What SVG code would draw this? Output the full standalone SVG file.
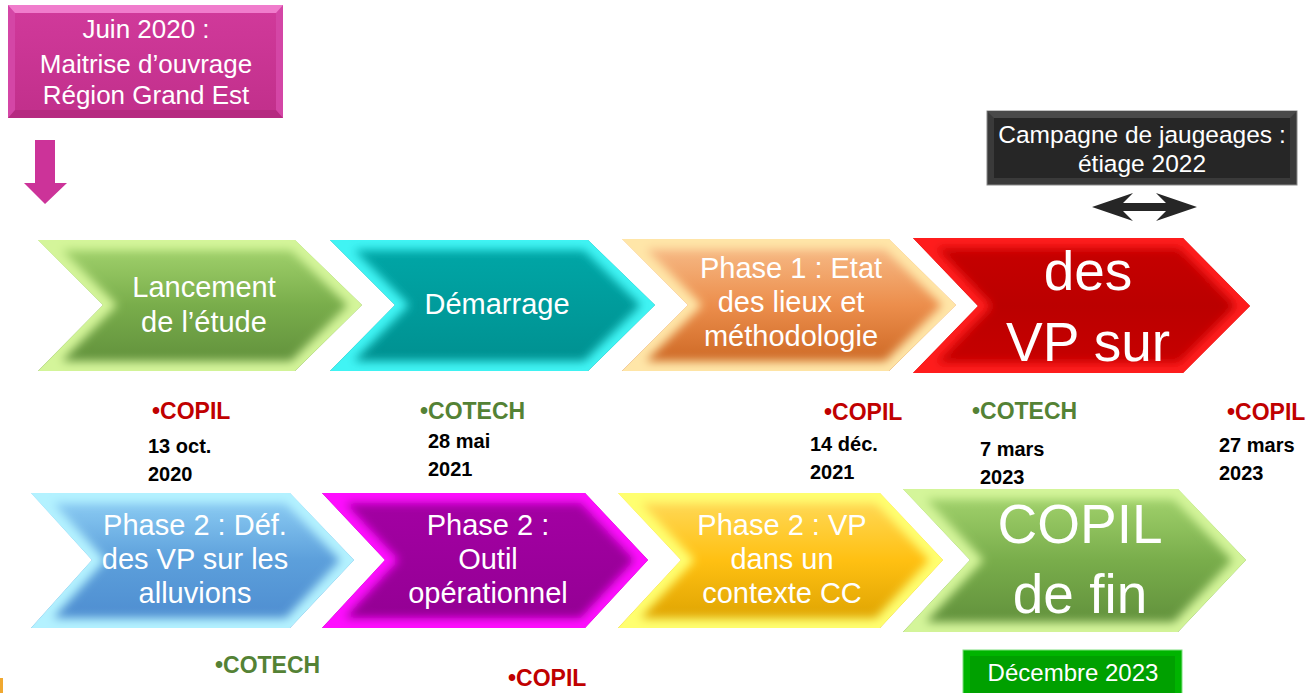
<svg xmlns="http://www.w3.org/2000/svg" xmlns:xlink="http://www.w3.org/1999/xlink" width="1308" height="693" viewBox="0 0 1308 693">
<style>
text{font-family:"Liberation Sans",Arial,sans-serif}
.w{fill:#fff;text-anchor:middle}
.t29{font-size:29px}
.t26{font-size:26px}
.big{font-size:55px}
.lbl{font-weight:bold;font-size:23px}
.red{fill:#c00000}
.grn{fill:#548235}
.dt{font-weight:bold;font-size:20px;fill:#000}
.glow{fill:none;stroke-width:20;filter:url(#soft)}
</style>
<defs>
<filter id="soft" x="-20%" y="-20%" width="140%" height="140%"><feGaussianBlur stdDeviation="5"/></filter>
<polygon id="p1" points="38,240 295,240 362,305 295,371 38,371 103,305"/>
<polygon id="p2" points="330,240 588,240 655,305 588,371 330,371 395,305"/>
<polygon id="p3" points="622,239 889,239 956,305 889,371 622,371 688,305"/>
<polygon id="p4" points="913,238 1183,238 1250,306 1183,373 913,373 978,306"/>
<polygon id="p5" points="31,493 290,493 354,560 290,628 31,628 92,560"/>
<polygon id="p6" points="322,493 585,493 648,560 585,628 322,628 385,560"/>
<polygon id="p7" points="618,493 880,493 943,560 880,628 618,628 681,560"/>
<polygon id="p8" points="903,489 1178,489 1246,560 1178,632 903,632 970,560"/>
<clipPath id="c1"><use xlink:href="#p1"/></clipPath>
<clipPath id="c2"><use xlink:href="#p2"/></clipPath>
<clipPath id="c3"><use xlink:href="#p3"/></clipPath>
<clipPath id="c4"><use xlink:href="#p4"/></clipPath>
<clipPath id="c5"><use xlink:href="#p5"/></clipPath>
<clipPath id="c6"><use xlink:href="#p6"/></clipPath>
<clipPath id="c7"><use xlink:href="#p7"/></clipPath>
<clipPath id="c8"><use xlink:href="#p8"/></clipPath>
<linearGradient id="gGreen" x1="0" y1="0" x2="0" y2="1"><stop offset="0" stop-color="#a6d670"/><stop offset="0.5" stop-color="#79ad4b"/><stop offset="1" stop-color="#5e8d3a"/></linearGradient>
<linearGradient id="gTeal" x1="0" y1="0" x2="0" y2="1"><stop offset="0" stop-color="#00a8a8"/><stop offset="1" stop-color="#008f8f"/></linearGradient>
<linearGradient id="gOrange" x1="0" y1="0" x2="0" y2="1"><stop offset="0" stop-color="#f8c08e"/><stop offset="0.5" stop-color="#ec8e4c"/><stop offset="1" stop-color="#c9631f"/></linearGradient>
<linearGradient id="gRed" x1="0" y1="0" x2="0" y2="1"><stop offset="0" stop-color="#c80000"/><stop offset="0.5" stop-color="#bb0000"/><stop offset="1" stop-color="#c80000"/></linearGradient>
<linearGradient id="gBlue" x1="0" y1="0" x2="0" y2="1"><stop offset="0" stop-color="#92d2f6"/><stop offset="0.5" stop-color="#5c9fdb"/><stop offset="1" stop-color="#4c8bcf"/></linearGradient>
<linearGradient id="gPurple" x1="0" y1="0" x2="0" y2="1"><stop offset="0" stop-color="#a400a4"/><stop offset="1" stop-color="#930093"/></linearGradient>
<linearGradient id="gYellow" x1="0" y1="0" x2="0" y2="1"><stop offset="0" stop-color="#ffdc60"/><stop offset="0.5" stop-color="#ffc012"/><stop offset="1" stop-color="#daa000"/></linearGradient>
<linearGradient id="gPink" x1="0" y1="0" x2="0" y2="1"><stop offset="0" stop-color="#d0399a"/><stop offset="1" stop-color="#c2308c"/></linearGradient>
</defs>

<rect x="0" y="678" width="3" height="15" fill="#f0a830"/>

<g id="maitrise">
<rect x="8" y="5" width="275" height="113" fill="#d446a6"/>
<polygon points="8,5 283,5 276,13 15,13" fill="#f07ccc"/>
<polygon points="8,118 283,118 276,110 15,110" fill="#b52a80"/>
<rect x="15" y="13" width="261" height="97" fill="url(#gPink)"/>
<text class="w t26" x="146" y="38">Juin 2020 :</text>
<text class="w t26" x="146" y="73">Maitrise d’ouvrage</text>
<text class="w t26" x="146" y="104">Région Grand Est</text>
</g>

<g id="campagne">
<rect x="987" y="111" width="310" height="74" fill="#3a3a3a" stroke="#8a8a8a" stroke-width="1"/>
<polygon points="987,111 1297,111 1290,118 994,118" fill="#4a4a4a"/>
<rect x="994" y="118" width="296" height="60" fill="#262626"/>
<text class="w" style="font-size:24.5px" x="1142" y="143">Campagne de jaugeages :</text>
<text class="w" style="font-size:24.5px" x="1142" y="172">étiage 2022</text>
</g>

<g id="decembre">
<rect x="963" y="650" width="219" height="50" fill="#00b400" stroke="#7fe07f" stroke-width="1"/>
<rect x="970" y="656" width="205" height="44" fill="#00a000"/>
<text class="w" style="font-size:24px" x="1073" y="681">Décembre 2023</text>
</g>

<g id="connectors">
<polygon points="35,140 55,140 55,183 67,183 45,204 24,183 35,183" fill="#cc3399"/>
<polygon points="1092,207 1133,193 1123,203 1166,203 1156,193 1197,207 1156,221 1166,211 1123,211 1133,221" fill="#262626"/>
</g>

<g id="lancement">
<use xlink:href="#p1" fill="url(#gGreen)"/>
<use xlink:href="#p1" class="glow" stroke="#d4f59a" clip-path="url(#c1)"/>
<text class="w t29" x="204" y="297">Lancement</text>
<text class="w t29" x="204" y="332">de l’étude</text>
</g>
<g id="demarrage">
<use xlink:href="#p2" fill="url(#gTeal)"/>
<use xlink:href="#p2" class="glow" stroke="#40f4f4" clip-path="url(#c2)"/>
<text class="w t29" x="497" y="314">Démarrage</text>
</g>
<g id="phase1">
<use xlink:href="#p3" fill="url(#gOrange)"/>
<use xlink:href="#p3" class="glow" stroke="#ffe6a8" clip-path="url(#c3)"/>
<text class="w t29" x="791" y="278">Phase 1 : Etat</text>
<text class="w t29" x="791" y="312">des lieux et</text>
<text class="w t29" x="791" y="346">méthodologie</text>
</g>
<g id="desvp">
<use xlink:href="#p4" fill="url(#gRed)"/>
<use xlink:href="#p4" class="glow" stroke="#ff1a1a" clip-path="url(#c4)"/>
<text class="w big" x="1088" y="290">des</text>
<text class="w big" x="1088" y="361">VP sur</text>
</g>
<g id="phase2a">
<use xlink:href="#p5" fill="url(#gBlue)"/>
<use xlink:href="#p5" class="glow" stroke="#b4f2ff" clip-path="url(#c5)"/>
<text class="w t29" x="195" y="535">Phase 2 : Déf.</text>
<text class="w t29" x="195" y="569">des VP sur les</text>
<text class="w t29" x="195" y="603">alluvions</text>
</g>
<g id="phase2b">
<use xlink:href="#p6" fill="url(#gPurple)"/>
<use xlink:href="#p6" class="glow" stroke="#ff10ff" clip-path="url(#c6)"/>
<text class="w t29" x="488" y="535">Phase 2 :</text>
<text class="w t29" x="488" y="569">Outil</text>
<text class="w t29" x="488" y="603">opérationnel</text>
</g>
<g id="phase2c">
<use xlink:href="#p7" fill="url(#gYellow)"/>
<use xlink:href="#p7" class="glow" stroke="#ffff70" clip-path="url(#c7)"/>
<text class="w t29" x="782" y="535">Phase 2 : VP</text>
<text class="w t29" x="782" y="569">dans un</text>
<text class="w t29" x="782" y="603">contexte CC</text>
</g>
<g id="copilfin">
<use xlink:href="#p8" fill="url(#gGreen)"/>
<use xlink:href="#p8" class="glow" stroke="#d4f59a" clip-path="url(#c8)"/>
<text class="w big" x="1080" y="543">COPIL</text>
<text class="w big" x="1080" y="613">de fin</text>
</g>

<g id="jalons">
<text class="lbl red" x="152" y="419">•COPIL</text>
<text class="dt" x="148" y="453">13 oct.</text>
<text class="dt" x="148" y="481">2020</text>
<text class="lbl grn" x="420" y="419">•COTECH</text>
<text class="dt" x="428" y="448">28 mai</text>
<text class="dt" x="428" y="476">2021</text>
<text class="lbl red" x="824" y="420">•COPIL</text>
<text class="dt" x="810" y="451">14 déc.</text>
<text class="dt" x="810" y="479">2021</text>
<text class="lbl grn" x="972" y="419">•COTECH</text>
<text class="dt" x="980" y="456">7 mars</text>
<text class="dt" x="980" y="484">2023</text>
<text class="lbl red" x="1227" y="420">•COPIL</text>
<text class="dt" x="1219" y="452">27 mars</text>
<text class="dt" x="1219" y="480">2023</text>
<text class="lbl grn" x="215" y="673">•COTECH</text>
<text class="lbl red" x="508" y="686">•COPIL</text>
</g>
</svg>
